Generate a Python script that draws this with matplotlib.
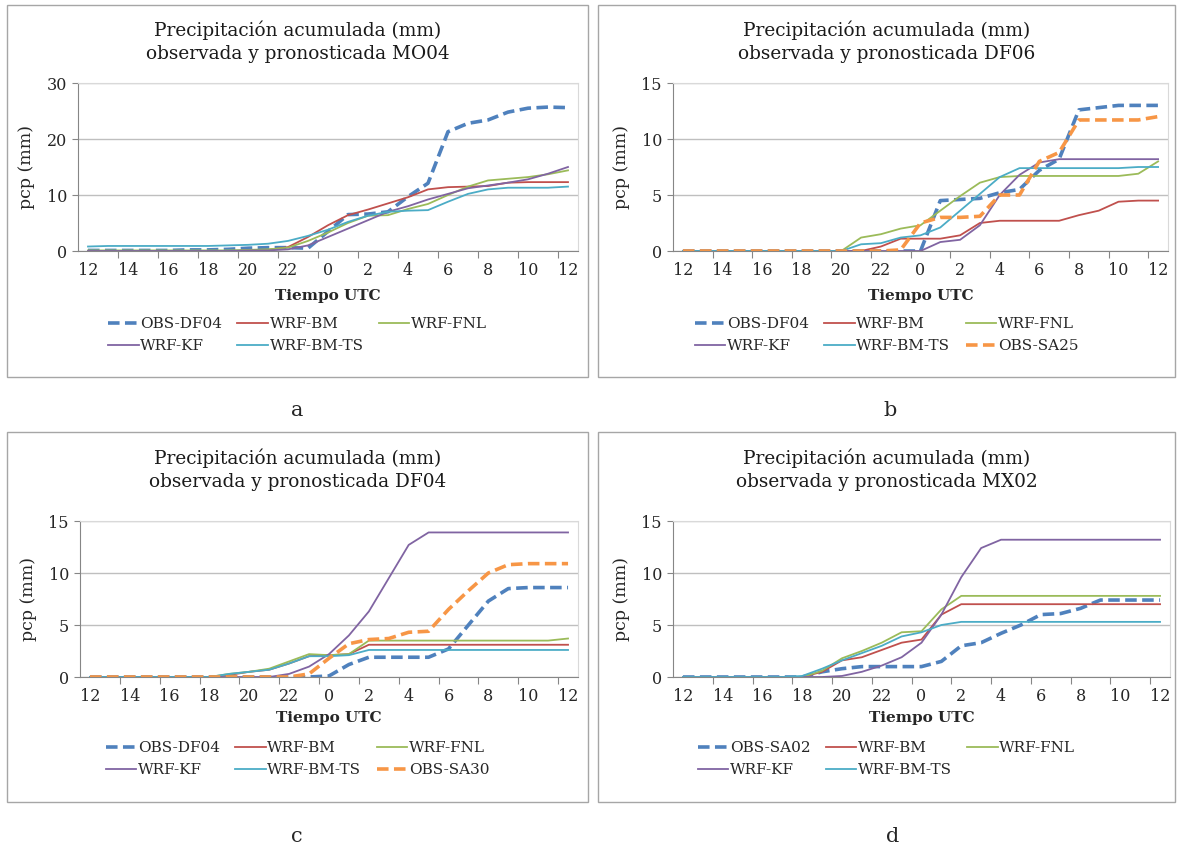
import matplotlib
matplotlib.use("Agg")
import matplotlib.pyplot as plt
from matplotlib.patches import Rectangle
import numpy as np

# ---------------- data ----------------
hours = [12, 13, 14, 15, 16, 17, 18, 19, 20, 21, 22, 23, 0, 1, 2, 3, 4, 5, 6, 7, 8, 9, 10, 11, 12]
tick_labels = ['12', '14', '16', '18', '20', '22', '0', '2', '4', '6', '8', '10', '12']

# panel a  (MO04)
a_obs = [0.1, 0.1, 0.1, 0.1, 0.1, 0.2, 0.2, 0.3, 0.5, 0.6, 0.6, 0.5, 3.5, 6.5, 6.6, 7.0, 9.7, 12.1, 21.3, 22.8, 23.4, 24.8, 25.5, 25.7, 25.6]
a_bm = [0, 0, 0, 0, 0, 0, 0, 0, 0.1, 0.2, 0.7, 2.5, 4.6, 6.4, 7.4, 8.5, 9.6, 11.0, 11.4, 11.5, 11.6, 12.2, 12.3, 12.3, 12.3]
a_fnl = [0.1, 0.1, 0.1, 0.1, 0.1, 0.1, 0.1, 0.1, 0.2, 0.3, 0.6, 1.8, 3.3, 5.0, 6.3, 6.4, 7.5, 8.4, 10.0, 11.5, 12.6, 12.9, 13.2, 13.7, 14.4]
a_kf = [0, 0, 0, 0, 0, 0, 0, 0, 0.1, 0.1, 0.3, 1.0, 2.5, 4.0, 5.5, 7.0, 8.0, 9.2, 10.2, 11.2, 11.7, 12.2, 12.8, 13.8, 15.0]
a_ts = [0.8, 0.9, 0.9, 0.9, 0.9, 0.9, 0.9, 1.0, 1.1, 1.3, 1.8, 2.7, 3.8, 5.2, 6.3, 7.0, 7.2, 7.3, 8.8, 10.2, 11.0, 11.3, 11.3, 11.3, 11.5]

# panel b  (DF06)
b_obs = [0, 0, 0, 0, 0, 0, 0, 0, 0, 0, 0, 0, 0.0, 4.5, 4.6, 4.7, 5.2, 5.5, 7.2, 8.2, 12.6, 12.8, 13.0, 13.0, 13.0]
b_bm = [0, 0, 0, 0, 0, 0, 0, 0, 0, 0, 0.4, 1.1, 1.1, 1.1, 1.4, 2.5, 2.7, 2.7, 2.7, 2.7, 3.2, 3.6, 4.4, 4.5, 4.5]
b_fnl = [0, 0, 0, 0, 0, 0, 0, 0, 0, 1.2, 1.5, 2.0, 2.3, 3.6, 4.9, 6.1, 6.6, 6.7, 6.7, 6.7, 6.7, 6.7, 6.7, 6.9, 8.0]
b_kf = [0, 0, 0, 0, 0, 0, 0, 0, 0, 0, 0, 0, 0, 0.8, 1.0, 2.3, 5.0, 6.8, 7.9, 8.2, 8.2, 8.2, 8.2, 8.2, 8.2]
b_ts = [0, 0, 0, 0, 0, 0, 0, 0, 0, 0.6, 0.7, 1.2, 1.4, 2.1, 3.6, 5.1, 6.6, 7.4, 7.4, 7.4, 7.4, 7.4, 7.4, 7.5, 7.5]
b_sa = [0, 0, 0, 0, 0, 0, 0, 0, 0, 0, 0, 0.1, 2.5, 3.0, 3.0, 3.1, 5.0, 5.0, 8.0, 8.8, 11.7, 11.7, 11.7, 11.7, 12.0]

# panel c  (DF04)
c_obs = [0, 0, 0, 0, 0, 0, 0, 0, 0, 0, 0, 0, 0.1, 1.2, 1.9, 1.9, 1.9, 1.9, 2.7, 5.0, 7.3, 8.5, 8.6, 8.6, 8.6]
c_bm = [0, 0, 0, 0, 0, 0, 0, 0.2, 0.5, 0.7, 1.3, 2.0, 2.1, 2.2, 3.1, 3.1, 3.1, 3.1, 3.1, 3.1, 3.1, 3.1, 3.1, 3.1, 3.1]
c_fnl = [0, 0, 0, 0, 0, 0, 0, 0.3, 0.5, 0.8, 1.5, 2.2, 2.1, 2.2, 3.5, 3.5, 3.5, 3.5, 3.5, 3.5, 3.5, 3.5, 3.5, 3.5, 3.7]
c_kf = [0, 0, 0, 0, 0, 0, 0, 0, 0, 0, 0.3, 1.0, 2.2, 4.0, 6.3, 9.5, 12.7, 13.9, 13.9, 13.9, 13.9, 13.9, 13.9, 13.9, 13.9]
c_ts = [0, 0, 0, 0, 0, 0, 0, 0.3, 0.5, 0.7, 1.3, 2.0, 2.0, 2.1, 2.6, 2.6, 2.6, 2.6, 2.6, 2.6, 2.6, 2.6, 2.6, 2.6, 2.6]
c_sa = [0, 0, 0, 0, 0, 0, 0, 0, 0, 0, 0, 0.3, 1.8, 3.2, 3.6, 3.7, 4.3, 4.4, 6.5, 8.3, 10.0, 10.8, 10.9, 10.9, 10.9]

# panel d  (MX02)
d_obs = [0, 0, 0, 0, 0, 0, 0, 0.5, 0.8, 1.0, 1.0, 1.0, 1.0, 1.5, 3.0, 3.3, 4.2, 5.0, 6.0, 6.1, 6.6, 7.4, 7.4, 7.4, 7.4]
d_bm = [0, 0, 0, 0, 0, 0, 0, 0.5, 1.6, 1.9, 2.6, 3.3, 3.6, 6.0, 7.0, 7.0, 7.0, 7.0, 7.0, 7.0, 7.0, 7.0, 7.0, 7.0, 7.0]
d_fnl = [0, 0, 0, 0, 0, 0, 0, 0.6, 1.8, 2.5, 3.3, 4.3, 4.4, 6.5, 7.8, 7.8, 7.8, 7.8, 7.8, 7.8, 7.8, 7.8, 7.8, 7.8, 7.8]
d_kf = [0, 0, 0, 0, 0, 0, 0, 0, 0.1, 0.5, 1.1, 1.9, 3.3, 6.0, 9.6, 12.4, 13.2, 13.2, 13.2, 13.2, 13.2, 13.2, 13.2, 13.2, 13.2]
d_ts = [0, 0, 0, 0, 0, 0, 0.1, 0.8, 1.6, 2.3, 3.0, 3.9, 4.3, 5.0, 5.3, 5.3, 5.3, 5.3, 5.3, 5.3, 5.3, 5.3, 5.3, 5.3, 5.3]

stations = ['MO04', 'DF06', 'DF04', 'MX02']
panel_letters = ['a', 'b', 'c', 'd']
obs_names = ['OBS-DF04', 'OBS-DF04', 'OBS-DF04', 'OBS-SA02']
extra_obs_names = [None, 'OBS-SA25', 'OBS-SA30', None]
model_names = ['WRF-BM', 'WRF-FNL', 'WRF-KF', 'WRF-BM-TS']
ymax = [30, 15, 15, 15]
ystep = [10, 5, 5, 5]

panels = [
    (a_obs, [a_bm, a_fnl, a_kf, a_ts], None),
    (b_obs, [b_bm, b_fnl, b_kf, b_ts], b_sa),
    (c_obs, [c_bm, c_fnl, c_kf, c_ts], c_sa),
    (d_obs, [d_bm, d_fnl, d_kf, d_ts], None),
]

# ---------------- style ----------------
C_OBS = '#4F81BD'
C_MODELS = ['#C0504D', '#9BBB59', '#8064A2', '#4BACC6']
C_SA = '#F79646'
SERIF = 'DejaVu Serif'
TXT = '#262626'

W, H = 1180, 850
fig = plt.figure(figsize=(W / 100, H / 100), dpi=100)
fig.patch.set_facecolor('white')


def fx(x):
    return x / W


def fy(y):
    return 1 - y / H


# pixel layout per panel: box (x0,y0,x1,y1), axes (left,top,right,bottom)
boxes = [(7, 5, 588, 377), (598, 5, 1175, 377), (7, 432, 588, 802), (598, 432, 1175, 802)]
axes_px = [(78, 83, 578, 251), (673, 83, 1168, 251), (80, 521, 578, 677), (673, 521, 1170, 677)]
title_y = [(30, 54), (30, 54), (458, 482), (458, 482)]
xlabel_y = [296, 296, 718, 718]
legend_top = [317, 317, 741, 741]
letter_pos = [(297, 410), (890, 410), (297, 836), (893, 836)]

dash = (0, (3.2, 1.5))
x = np.arange(len(hours))

for k in range(4):
    bx0, by0, bx1, by1 = boxes[k]
    fig.patches.append(Rectangle((fx(bx0), fy(by1)), fx(bx1 - bx0), (by1 - by0) / H,
                                 transform=fig.transFigure, fill=False,
                                 edgecolor='#A6A6A6', lw=1.0))
    l, t, r, b = axes_px[k]
    ax = fig.add_axes([fx(l), fy(b), fx(r - l), (b - t) / H])
    obs, models, sa = panels[k]

    h_obs, = ax.plot(x, obs, color=C_OBS, lw=2.6, ls=dash, label=obs_names[k],
                     dash_capstyle='butt')
    hm = []
    for vals, col, nm in zip(models, C_MODELS, model_names):
        h, = ax.plot(x, vals, color=col, lw=1.3, label=nm)
        hm.append(h)
    handles = [h_obs, hm[2], hm[0], hm[3], hm[1]]
    if sa is not None:
        h_sa, = ax.plot(x, sa, color=C_SA, lw=2.6, ls=dash, label=extra_obs_names[k],
                        dash_capstyle='butt')
        handles.append(h_sa)

    ax.set_xlim(-0.5, len(hours) - 0.5)
    ax.set_ylim(0, ymax[k])
    ax.set_yticks(np.arange(0, ymax[k] + 0.1, ystep[k]))
    ax.set_xticks(x[::2])
    ax.set_xticklabels(tick_labels)
    ax.set_xticks(np.arange(1.5, len(hours) - 1, 2), minor=True)
    ax.tick_params(axis='x', which='major', length=0, pad=8, labelsize=11.5, labelcolor=TXT)
    ax.tick_params(axis='x', which='minor', length=5, color='#868686', width=0.8)
    ax.tick_params(axis='y', which='major', length=4, color='#868686', width=0.8,
                   pad=4, labelsize=11.5, labelcolor=TXT)
    for lab in ax.get_xticklabels() + ax.get_yticklabels():
        lab.set_family(SERIF)
    ax.grid(axis='y', color='#BFBFBF', lw=1.0)
    ax.set_axisbelow(True)
    for s in ['top', 'right']:
        ax.spines[s].set_color('#D9D9D9')
        ax.spines[s].set_linewidth(0.8)
    for s in ['left', 'bottom']:
        ax.spines[s].set_color('#868686')
        ax.spines[s].set_linewidth(0.8)

    ax.set_ylabel('pcp (mm)', family=SERIF, fontsize=12.5, color=TXT, labelpad=8)

    cx = (bx0 + bx1) / 2
    fig.text(fx(cx), fy(title_y[k][0]), 'Precipitación acumulada (mm)', family=SERIF,
             fontsize=13.3, color='#1a1a1a', ha='center', va='center')
    fig.text(fx(cx), fy(title_y[k][1]), 'observada y pronosticada ' + stations[k], family=SERIF,
             fontsize=13.3, color='#1a1a1a', ha='center', va='center')
    fig.text(fx((l + r) / 2), fy(xlabel_y[k]), 'Tiempo UTC', family=SERIF, fontsize=11,
             fontweight='bold', color=TXT, ha='center', va='center')

    fig.legend(handles=handles, labels=[h.get_label() for h in handles], ncol=3,
               loc='upper center', bbox_to_anchor=(fx(cx), fy(legend_top[k])),
               frameon=False, prop={'family': SERIF, 'size': 11},
               handlelength=2.0, handletextpad=0.1, columnspacing=1.0,
               labelspacing=0.55, borderaxespad=0, borderpad=0,
               labelcolor=TXT)

    lx, ly = letter_pos[k]
    fig.text(fx(lx), fy(ly), panel_letters[k], family=SERIF, fontsize=15, color=TXT,
             ha='center', va='center')

fig.savefig('out.png', dpi=100, facecolor='white')
